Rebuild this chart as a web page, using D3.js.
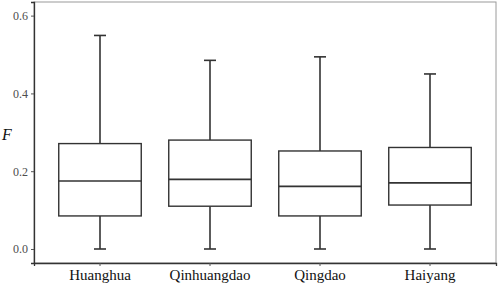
<!DOCTYPE html>
<html>
<head>
<meta charset="utf-8">
<script src="https://cdn.jsdelivr.net/npm/d3@7"></script>
<style>
  body { margin: 0; background: #fff; }
  svg text { font-family: "Liberation Serif", "Times New Roman", serif !important; }
</style>
</head>
<body>
<div id="chart"></div>
<script>
// data
var sites = ["Huanghua", "Qinhuangdao", "Qingdao", "Haiyang"];
var whiskerLow = [0.0, 0.0, 0.0, 0.0];
var q1 = [0.085, 0.110, 0.085, 0.113];
var median = [0.175, 0.179, 0.161, 0.170];
var q3 = [0.271, 0.280, 0.252, 0.261];
var whiskerHigh = [0.549, 0.485, 0.494, 0.450];
var yTicks = [0.0, 0.2, 0.4, 0.6];

var W = 498, H = 286;
var m = {left: 34, right: 2, top: 2, bottom: 23};

var svg = d3.select("#chart").append("svg")
	.attr("width", W)
	.attr("height", H);

var x = d3.scaleBand()
	.domain(sites)
	.range([m.left, W - m.right])
	.paddingOuter(0.1)
	.paddingInner(0);

var y = d3.scaleLinear()
	.domain([-0.036, 0.635])
	.range([H - m.bottom, m.top]);

// panel border
svg.append("rect")
	.attr("x", m.left)
	.attr("y", m.top)
	.attr("width", W - m.right - m.left)
	.attr("height", H - m.bottom - m.top)
	.attr("fill", "none")
	.attr("stroke", "#9a9a9a")
	.attr("stroke-width", 1);

var boxW = x.bandwidth() * 0.75;

var data = sites.map(function(s, i) {
	return {site: s, lo: whiskerLow[i], q1: q1[i], med: median[i], q3: q3[i], hi: whiskerHigh[i]};
});

var g = svg.selectAll(".box").data(data).enter().append("g")
	.attr("class", "box");

var cx = function(d) { return x(d.site) + x.bandwidth() / 2; };

// whiskers
g.append("line")
	.attr("x1", cx).attr("x2", cx)
	.attr("y1", function(d) { return y(d.hi); })
	.attr("y2", function(d) { return y(d.q3); })
	.attr("stroke", "#333").attr("stroke-width", 1.6);
g.append("line")
	.attr("x1", cx).attr("x2", cx)
	.attr("y1", function(d) { return y(d.q1); })
	.attr("y2", function(d) { return y(d.lo); })
	.attr("stroke", "#333").attr("stroke-width", 1.6);
// whisker caps
["hi", "lo"].forEach(function(k) {
	g.append("line")
		.attr("x1", function(d) { return cx(d) - 6; })
		.attr("x2", function(d) { return cx(d) + 6; })
		.attr("y1", function(d) { return y(d[k]); })
		.attr("y2", function(d) { return y(d[k]); })
		.attr("stroke", "#333").attr("stroke-width", 1.6);
});

// boxes
g.append("rect")
	.attr("x", function(d) { return cx(d) - boxW / 2; })
	.attr("y", function(d) { return y(d.q3); })
	.attr("width", boxW)
	.attr("height", function(d) { return y(d.q1) - y(d.q3); })
	.attr("fill", "#fff")
	.attr("stroke", "#333")
	.attr("stroke-width", 1.4);

g.append("line")
	.attr("x1", function(d) { return cx(d) - boxW / 2; })
	.attr("x2", function(d) { return cx(d) + boxW / 2; })
	.attr("y1", function(d) { return y(d.med); })
	.attr("y2", function(d) { return y(d.med); })
	.attr("stroke", "#333").attr("stroke-width", 1.6);

// axes
var yAxis = svg.append("g")
	.attr("transform", "translate(" + m.left + ",0)")
	.call(d3.axisLeft(y).tickValues(yTicks).tickFormat(d3.format(".1f")).tickSize(3).tickPadding(3));
var xAxis = svg.append("g")
	.attr("transform", "translate(0," + (H - m.bottom) + ")")
	.call(d3.axisBottom(x).tickSize(3).tickPadding(3));

[yAxis, xAxis].forEach(function(a) {
	a.attr("font-family", null);
	a.select(".domain").attr("stroke", "#333").attr("stroke-width", 1.3);
	a.selectAll(".tick line").attr("stroke", "#555");
});
yAxis.selectAll("text")
	.style("font-size", "12px")
	.attr("fill", "#4d4d4d");
xAxis.selectAll("text")
	.style("font-size", "15px")
	.attr("fill", "#111");

svg.append("text")
	.attr("x", 2)
	.attr("y", 140)
	.style("font-size", "16px")
	.style("font-style", "italic")
	.attr("fill", "#111")
	.text("F");
</script>
</body>
</html>
